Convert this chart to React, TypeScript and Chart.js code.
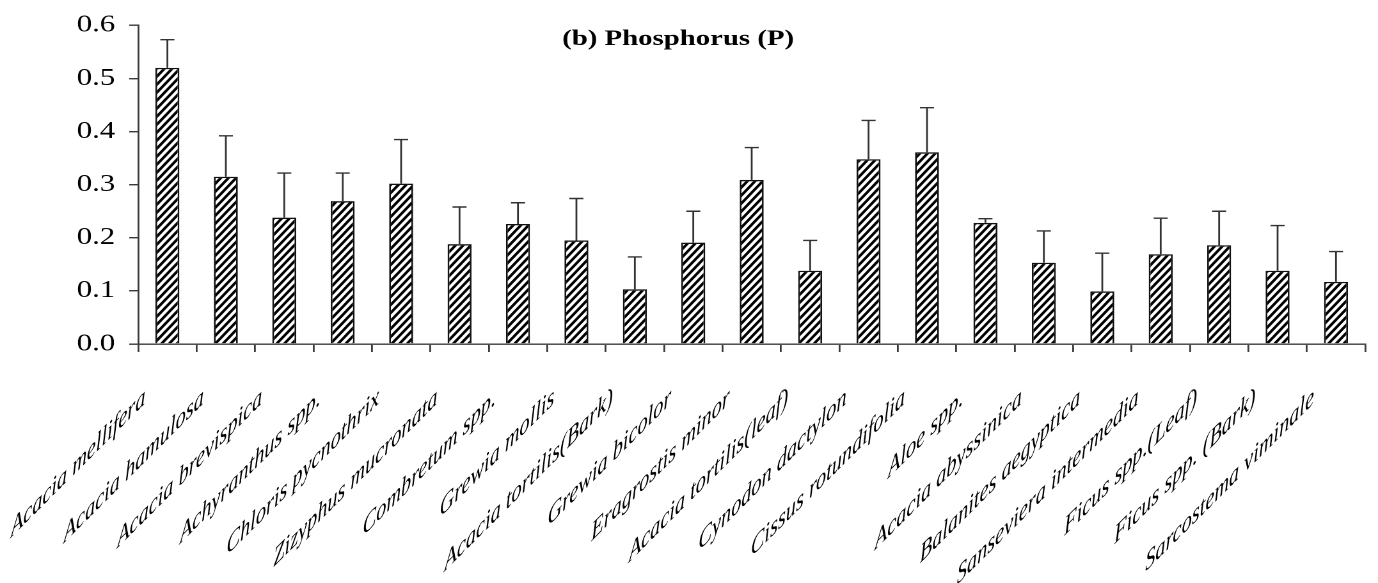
import React, { useEffect, useRef } from "react";
import { Chart, registerables } from "chart.js";

Chart.register(...registerables);

const categories = [
  "Acacia mellifera",
  "Acacia hamulosa",
  "Acacia brevispica",
  "Achyranthus spp.",
  "Chloris pycnothrix",
  "Zizyphus mucronata",
  "Combretum spp.",
  "Grewia mollis",
  "Acacia tortilis(Bark)",
  "Grewia bicolor",
  "Eragrostis minor",
  "Acacia tortilis(leaf)",
  "Cynodon dactylon",
  "Cissus rotundifolia",
  "Aloe spp.",
  "Acacia abyssinica",
  "Balanites aegyptica",
  "Sanseviera intermedia",
  "Ficus spp.(Leaf)",
  "Ficus spp. (Bark)",
  "Sarcostema viminale",
];

const phosphorus = [
  0.52, 0.315, 0.238, 0.269, 0.302, 0.188, 0.226, 0.195, 0.103, 0.191, 0.309,
  0.138, 0.348, 0.361, 0.228, 0.153, 0.099, 0.169, 0.186, 0.138, 0.117,
];

const errors = [
  0.053, 0.077, 0.084, 0.053, 0.083, 0.07, 0.04, 0.079, 0.061, 0.059, 0.061,
  0.057, 0.073, 0.084, 0.008, 0.06, 0.072, 0.068, 0.064, 0.085, 0.057,
];

const titleText = "(b) Phosphorus (P)";
const yMin = 0;
const yMax = 0.6;
const yStep = 0.1;

// the reference figure is drawn horizontally stretched
const STRETCH = 1.28;
const PAGE_W = 1378;
const PAGE_H = 583;
const DRAW_W = Math.round(PAGE_W / STRETCH);
// category labels: horizontally condensed, skewed so the baseline rises at 45 degrees
const LABEL_CONDENSE = 0.78;

const FONT = "'Liberation Serif', 'Times New Roman', serif";

function makeHatch(): CanvasPattern | string {
  const w = 6;
  const h = 8;
  const c = document.createElement("canvas");
  c.width = w * 4;
  c.height = h * 4;
  const ctx = c.getContext("2d");
  if (!ctx) return "#fff";
  ctx.scale(4, 4);
  ctx.fillStyle = "#fff";
  ctx.fillRect(0, 0, w, h);
  ctx.strokeStyle = "#000";
  ctx.lineWidth = 2.3;
  ctx.beginPath();
  for (let k = -1; k <= 1; k++) {
    ctx.moveTo(k * w - w * 0.5, h + h * 0.5);
    ctx.lineTo(k * w + w + w * 0.5, -h * 0.5);
  }
  ctx.stroke();
  const p = ctx.createPattern(c, "repeat");
  if (p && (p as any).setTransform) {
    (p as any).setTransform(new DOMMatrix().scale(0.25, 0.25));
  }
  return p || "#fff";
}

const errorBarPlugin = {
  id: "errorBars",
  afterDatasetsDraw(chart: any) {
    const meta = chart.getDatasetMeta(0);
    const yScale = chart.scales.y;
    const ctx = chart.ctx;
    ctx.save();
    ctx.strokeStyle = "#333";
    ctx.lineWidth = 1.4;
    meta.data.forEach((bar: any, i: number) => {
      const v = phosphorus[i];
      const e = errors[i];
      const top = yScale.getPixelForValue(v + e);
      const x = bar.x;
      ctx.beginPath();
      ctx.moveTo(x, bar.y);
      ctx.lineTo(x, top);
      ctx.moveTo(x - 5.5, top);
      ctx.lineTo(x + 5.5, top);
      ctx.stroke();
    });
    ctx.restore();
  },
};

const skewLabelPlugin = {
  id: "skewLabels",
  afterDraw(chart: any) {
    const xScale = chart.scales.x;
    const ctx = chart.ctx;
    ctx.save();
    ctx.font = `italic 26px ${FONT}`;
    ctx.fillStyle = "#000";
    ctx.textAlign = "right";
    ctx.textBaseline = "alphabetic";
    categories.forEach((label, i) => {
      const x = xScale.getPixelForValue(i) - 22 / STRETCH;
      const y = xScale.top + 59;
      ctx.save();
      ctx.translate(x, y);
      ctx.scale(LABEL_CONDENSE / STRETCH, 1);
      ctx.transform(1, -LABEL_CONDENSE, 0, 1, 0, 0);
      ctx.fillText(label, 0, 0);
      ctx.restore();
    });
    ctx.restore();
  },
};

const titlePlugin = {
  id: "innerTitle",
  afterDraw(chart: any) {
    const { ctx, chartArea } = chart;
    ctx.save();
    ctx.font = `bold 22.5px ${FONT}`;
    ctx.fillStyle = "#000";
    ctx.textAlign = "center";
    ctx.textBaseline = "middle";
    const x = chartArea.left + (chartArea.right - chartArea.left) * 0.44;
    ctx.fillText(titleText, x, chartArea.top + 14);
    ctx.restore();
  },
};

export default function App() {
  const ref = useRef<HTMLCanvasElement | null>(null);

  useEffect(() => {
    if (!ref.current) return;
    const hatch = makeHatch();
    const axisColor = "#3a3a3a";
    const chart = new Chart(ref.current, {
      type: "bar",
      data: {
        labels: categories,
        datasets: [
          {
            data: phosphorus,
            backgroundColor: hatch as any,
            borderColor: "#111",
            borderWidth: 1.4,
            barPercentage: 0.41,
            categoryPercentage: 1,
          },
        ],
      },
      options: {
        animation: false,
        responsive: false,
        devicePixelRatio: 2,
        layout: { padding: { top: 3, right: 10, left: 0, bottom: 0 } },
        plugins: {
          legend: { display: false },
          tooltip: { enabled: false },
          title: { display: false },
        },
        scales: {
          x: {
            offset: true,
            grid: {
              offset: true,
              drawOnChartArea: false,
              drawTicks: true,
              tickLength: 8,
              color: axisColor,
              lineWidth: 1.4,
            },
            border: { color: axisColor, width: 1.4 },
            ticks: { display: false },
            afterFit: (s: any) => {
              s.height = 239;
              s.paddingLeft = 0;
              s.paddingRight = 0;
            },
          },
          y: {
            min: yMin,
            max: yMax,
            grid: {
              drawOnChartArea: false,
              drawTicks: true,
              tickLength: 7,
              color: axisColor,
              lineWidth: 1.4,
            },
            border: { color: axisColor, width: 1.4 },
            ticks: {
              stepSize: yStep,
              padding: 11,
              color: "#000",
              font: { family: FONT, size: 24 },
              callback: (v: any) => Number(v).toFixed(1),
            },
            afterFit: (s: any) => {
              s.width = 108;
            },
          },
        },
      },
      plugins: [errorBarPlugin, skewLabelPlugin, titlePlugin],
    });
    return () => chart.destroy();
  }, []);

  return (
    <div
      style={{
        position: "fixed",
        left: 0,
        top: 0,
        width: PAGE_W,
        height: PAGE_H,
        background: "#fff",
      }}
    >
      <canvas
        ref={ref}
        width={DRAW_W}
        height={PAGE_H}
        style={{ width: PAGE_W + "px", height: PAGE_H + "px", display: "block" }}
      />
    </div>
  );
}
